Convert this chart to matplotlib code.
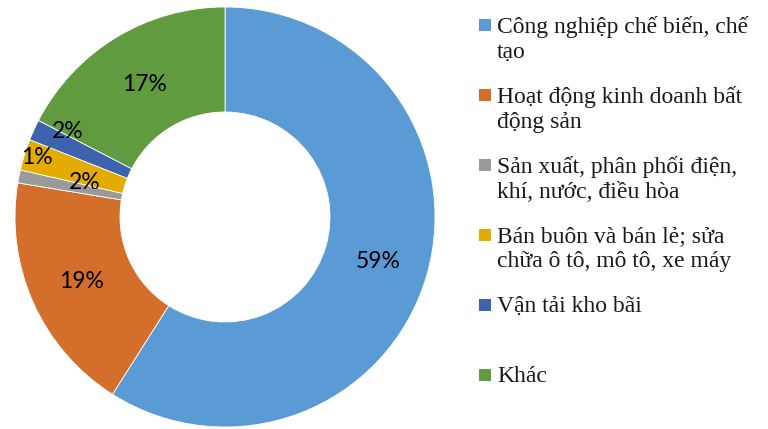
import matplotlib.pyplot as plt
from matplotlib.patches import Rectangle
import numpy as np

# Data
categories = ['Công nghiệp chế biến, chế\ntạo',
              'Hoạt động kinh doanh bất\nđộng sản',
              'Sản xuất, phân phối điện,\nkhí, nước, điều hòa',
              'Bán buôn và bán lẻ; sửa\nchữa ô tô, mô tô, xe máy',
              'Vận tải kho bãi',
              'Khác']
shares = [59.0, 18.6, 1.0, 2.4, 1.6, 17.4]
colors = ['#5B9BD5', '#D46F2B', '#9A9A9A', '#E5AC00', '#3D63AE', '#619B40']

# label placement tweaks (angle offset in degrees, radius)
lbl_dang = [0, 0, -6.5, 3.5, -4, 0]
lbl_rad = [0.76, 0.75, 0.94, 0.69, 0.85, 0.74]

W, H = 768, 429
fig = plt.figure(figsize=(W / 100, H / 100), dpi=100)

# donut
cx, cy, R = 225, 217, 210
ax = fig.add_axes([(cx - R) / W, (H - cy - R) / H, 2 * R / W, 2 * R / H])
wedges, _ = ax.pie(shares, colors=colors, startangle=90, counterclock=False,
                   radius=1, wedgeprops=dict(width=0.5, edgecolor='white', linewidth=0.6))
ax.set_xlim(-1, 1)
ax.set_ylim(-1, 1)
ax.set_aspect('equal')
ax.axis('off')

for w, v, da, r in zip(wedges, shares, lbl_dang, lbl_rad):
    ang = np.deg2rad((w.theta1 + w.theta2) / 2 + da)
    ax.text(r * np.cos(ang), r * np.sin(ang), f'{v:.0f}%', ha='center', va='center',
            fontsize=16.5, family=['Lato', 'DejaVu Sans'], color='black')

# legend drawn by hand
for i, (lab, c) in enumerate(zip(categories, colors)):
    yc = 25 + 70 * i
    fig.add_artist(Rectangle((479 / W, 1 - (yc + 6) / H), 12 / W, 12 / H,
                             transform=fig.transFigure, facecolor=c, edgecolor='none'))
    fig.text(497 / W, 1 - (yc - 9) / H, lab, ha='left', va='top', fontsize=17,
             family=['Liberation Serif', 'DejaVu Serif'], color='#1a1a1a', linespacing=1.27)

fig.savefig('out.png', dpi=100)
